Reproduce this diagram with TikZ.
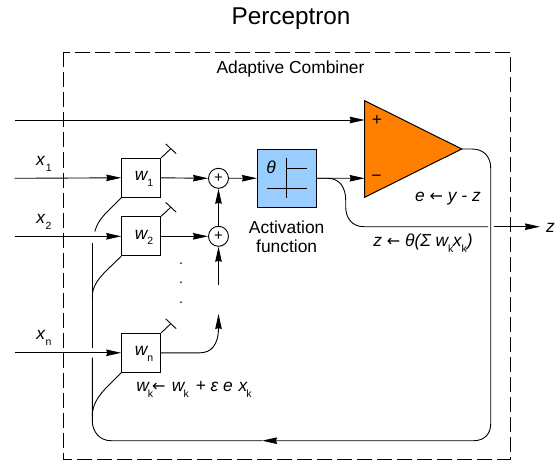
\documentclass[tikz,border=0pt]{standalone}
\usepackage{fontspec}
\setmainfont{Liberation Sans}
\newfontfamily\arrowfont{DejaVu Sans}
\usetikzlibrary{arrows.meta}
\newlength{\du}
\setlength{\du}{1pt}
\definecolor{dialineorange}{rgb}{1.000000, 0.501961, 0.000000}
\definecolor{dialineblue}{rgb}{0.600000, 0.800000, 1.000000}
\newcommand{\subtxt}[1]{\raisebox{-0.6ex}{\upshape\fontsize{10.5}{11}\selectfont #1}}
\newcommand{\ruleto}{{\upshape\arrowfont\fontsize{16}{16}\selectfont ←}}
\tikzset{
  wire/.style={line width=0.900000\du,color=black},
  flow/.style={wire,-{Stealth[length=15pt,width=6.5pt,inset=1pt]}},
  labeltxt/.style={inner sep=0pt,font=\fontsize{17.4}{20}\selectfont},
  mathtxt/.style={labeltxt,font=\fontsize{17.4}{20}\selectfont\itshape},
  weightbox/.style={draw,wire,fill=white,minimum size=39\du,inner sep=0pt,font=\fontsize{17}{20}\selectfont\itshape},
  sumnode/.style={draw,wire,fill=white,circle,minimum size=20\du,inner sep=0pt,font=\fontsize{15}{15}\selectfont},
  activbox/.style={draw,line width=1.000000\du,fill=dialineblue,minimum width=58.800000\du,minimum height=58.300000\du,inner sep=0pt}
}
\begin{document}
\begin{tikzpicture}[x=\du,y=\du]
\pgftransformyscale{-1.000000}
\useasboundingbox (0.000000,0.000000) rectangle (555.000000,460.000000);
% frame and titles
\coordinate (frameA) at (63.500000,52.500000);
\coordinate (frameB) at (510.000000,459.000000);
\draw[line width=0.900000\du,dash pattern=on 15pt off 5pt] (frameA) rectangle (frameB);
\node[labeltxt,font=\fontsize{24.3}{28}\selectfont] (title) at (291.000000,19.000000){Perceptron};
\node[labeltxt] (combiner) at (290.500000,69.500000){Adaptive Combiner};
% weights
\node[weightbox] (w1) at (141.200000,177.800000){};
\node[weightbox] (w2) at (141.200000,236.300000){};
\node[weightbox] (wn) at (141.200000,352.800000){};
\node[mathtxt] (w1txt) at (144.000000,179.000000){w\subtxt{1}};
\node[mathtxt] (w2txt) at (144.000000,237.500000){w\subtxt{2}};
\node[mathtxt] (wntxt) at (144.000000,354.000000){w\subtxt{n}};
\foreach \name in {w1,w2,wn}{
  \draw[wire] (\name.north east)--++(9.500000,-9.000000) coordinate (\name tip);
  \draw[wire] ([shift={(-5.000000,-5.000000)}]\name tip)--([shift={(5.500000,4.800000)}]\name tip);
}
% summing nodes
\node[sumnode] (sum1) at (218.500000,178.300000){+};
\node[sumnode] (sum2) at (218.500000,236.300000){+};
% activation box
\node[activbox] (activ) at (286.900000,178.200000){};
\node[mathtxt] (thetatxt) at (271.000000,167.000000){θ};
\coordinate (activA) at (286.700000,158.000000);
\coordinate (activB) at (286.700000,198.000000);
\coordinate (activC) at (267.000000,188.000000);
\coordinate (activD) at (307.000000,188.000000);
\coordinate (activE) at (307.000000,168.700000);
\draw[wire] (activA)--(activB);
\draw[wire] (activC)--(activD);
\draw[wire] (286.700000,168.700000)--(activE);
\node[labeltxt,align=center,font=\fontsize{17.4}{18.5}\selectfont] (activtxt) at (286.700000,237.000000){Activation\\function};
% comparator
\coordinate (triA) at (364.700000,100.700000);
\coordinate (triB) at (364.700000,197.300000);
\coordinate (triC) at (461.700000,149.000000);
\coordinate (triplus) at (364.700000,120.000000);
\coordinate (triminus) at (364.700000,178.300000);
\draw[line width=1.000000\du,fill=dialineorange] (triA)--(triB)--(triC)--cycle;
\node[labeltxt] (plustxt) at (377.000000,120.000000){+};
\node[labeltxt] (minustxt) at (376.500000,178.300000){−};
% inputs
\coordinate (in0) at (14.700000,120.000000);
\coordinate (in1) at (14.700000,178.300000);
\coordinate (in2) at (14.700000,236.300000);
\coordinate (inn) at (14.700000,352.800000);
\draw[flow] (in0)--(triplus);
\draw[flow] (in1)--(w1.west);
\draw[flow] (in2)--(w2.west);
\draw[flow] (inn)--(wn.west);
\node[mathtxt] (x1txt) at (44.000000,164.000000){x\kern1pt\subtxt{1}};
\node[mathtxt] (x2txt) at (44.000000,222.000000){x\kern0.5pt\subtxt{2}};
\node[mathtxt] (xntxt) at (44.000000,338.000000){x\kern0.5pt\subtxt{n}};
% weights to sums
\draw[flow] (w1.east)--(sum1.west);
\draw[flow] (w2.east)--(sum2.west);
\draw[flow] (sum1.east)--(activ.west);
\draw[flow] (sum2.north)--(sum1.south);
\coordinate (sumtail) at (218.500000,285.000000);
\draw[flow] (sumtail)--(sum2.south);
\coordinate (sumhead) at (218.500000,314.000000);
\draw[flow] (wn.east)--(200.000000,352.800000) .. controls (211.000000,352.800000) and (218.500000,345.000000) .. (sumhead);
\node[labeltxt,inner sep=0pt,font=\fontsize{14}{14}\selectfont] (dot1) at (181.000000,263.500000){.};
\node[labeltxt,inner sep=0pt,font=\fontsize{14}{14}\selectfont] (dot2) at (181.000000,283.000000){.};
\node[labeltxt,inner sep=0pt,font=\fontsize{14}{14}\selectfont] (dot3) at (181.000000,303.000000){.};
% activation output
\draw[flow] (activ.east)--(triminus);
\coordinate (zgapA) at (488.000000,226.700000);
\coordinate (zgapB) at (493.500000,226.700000);
\coordinate (zout) at (540.000000,226.700000);
\draw[wire] (activ.east)--(328.000000,178.300000) .. controls (339.000000,178.300000) and (345.700000,187.000000) .. (345.700000,200.000000)--(345.700000,207.000000) .. controls (345.700000,218.000000) and (352.000000,226.700000) .. (364.000000,226.700000)--(zgapA);
\draw[flow] (zgapB)--(zout);
\node[mathtxt,anchor=west] (ztxt) at (546.000000,227.500000){z};
% feedback
\coordinate (fbmid) at (262.000000,440.700000);
\coordinate (fbA) at (92.300000,357.500000);
\coordinate (fbB) at (92.300000,348.000000);
\coordinate (fbC) at (92.300000,243.000000);
\draw[flow] (triC)--(472.000000,149.000000) .. controls (483.000000,149.000000) and (490.700000,156.000000) .. (490.700000,168.000000)--(490.700000,424.000000) .. controls (490.700000,434.000000) and (484.000000,440.700000) .. (474.000000,440.700000)--(fbmid);
\draw[wire] (fbmid)--(111.000000,440.700000) .. controls (100.000000,440.700000) and (92.300000,432.000000) .. (92.300000,421.000000)--(fbA);
\draw[wire] (fbB)--(fbC);
\draw[wire] (w1.south west)--(107.000000,212.000000) .. controls (100.000000,219.000000) and (96.500000,225.000000) .. (94.800000,231.500000);
\draw[wire] (w2.south west)--(107.000000,270.000000) .. controls (97.000000,280.000000) and (92.300000,287.000000) .. (92.300000,297.000000);
\draw[wire] (wn.south west)--(107.000000,387.000000) .. controls (97.000000,397.000000) and (92.300000,406.000000) .. (92.300000,416.000000);
% rules
\node[mathtxt] (ruleE) at (448.000000,199.000000){e \ruleto\ y - z};
\node[mathtxt] (ruleZ) at (423.000000,243.000000){z \ruleto\ θ(Σ w\subtxt{k}\kern-0.5pt x\subtxt{k})};
\node[mathtxt] (ruleW) at (194.000000,389.500000){w\kern-1pt\subtxt{k}\kern-1pt\ruleto\ \kern1.5pt w\kern-1pt\subtxt{k}\kern2pt\ +\ ε\ e\ \kern1pt x\kern-1pt\subtxt{k}};
\end{tikzpicture}
\end{document}
